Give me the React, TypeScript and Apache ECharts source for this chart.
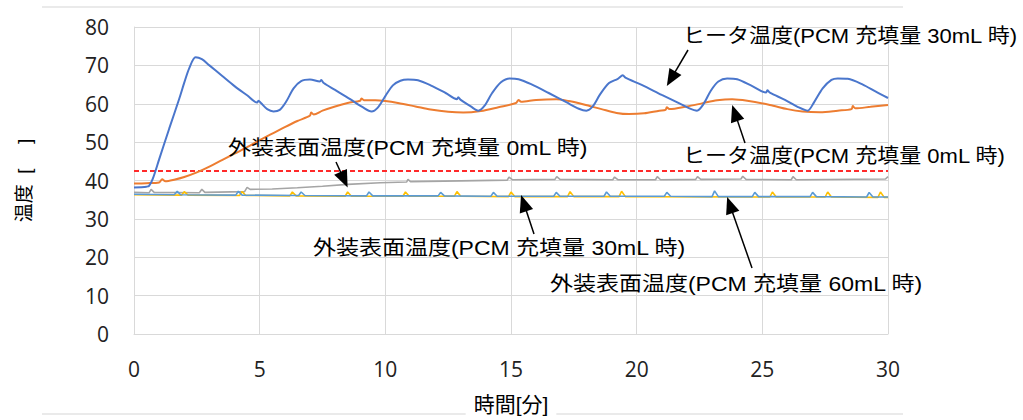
import React, { useEffect, useRef } from "react";
import * as echarts from "echarts";

// ---- data (time [min], temperature) ----
const heater30mL: [number, number][] = [
  [0, 38.2], [0.5, 38.4], [0.6, 38.6], [0.75, 40.5], [1.0, 45.5], [1.4, 53.5], [1.8, 61.3], [2.0, 65.5], [2.2, 69.3],
  [2.45, 72.1], [2.7, 71.6], [3.0, 70.0], [3.5, 67.3], [4.0, 64.6], [4.5, 62.2], [4.9, 60.3], [4.95, 60.8], [5.05, 60.2],
  [5.3, 58.6], [5.55, 58.0], [5.8, 58.4], [6.05, 60.5], [6.35, 64.0], [6.65, 65.9], [7.0, 66.3], [7.4, 65.8], [7.45, 66.2],
  [7.55, 65.4], [8.0, 63.6], [8.6, 61.2], [9.1, 59.1], [9.45, 58.0], [9.7, 59.0], [10.0, 62.0], [10.3, 64.8], [10.6, 66.0],
  [10.9, 66.3], [11.3, 66.1], [11.8, 64.8], [12.4, 62.8], [12.85, 61.2], [12.9, 61.7], [13.0, 61.0], [13.4, 59.3],
  [13.7, 58.2], [13.95, 59.5], [14.25, 62.8], [14.6, 65.6], [14.95, 66.6], [15.3, 66.4], [15.8, 65.1], [16.5, 62.8],
  [17.2, 60.4], [17.7, 58.7], [18.0, 58.2], [18.25, 59.3], [18.55, 62.5], [18.9, 65.4], [19.25, 66.5], [19.45, 67.4],
  [19.55, 66.8], [20.2, 64.9], [21.0, 62.3], [21.7, 60.1], [22.1, 58.8], [22.4, 58.2], [22.65, 59.8], [22.95, 63.4],
  [23.25, 65.8], [23.6, 66.6], [24.0, 66.4], [24.6, 64.6], [25.15, 62.9], [25.2, 63.5], [25.3, 62.9], [25.9, 61.0],
  [26.4, 59.2], [26.8, 58.2], [27.05, 60.3], [27.4, 64.0], [27.75, 66.2], [28.0, 66.6], [28.4, 66.5], [29.0, 65.0],
  [29.5, 63.2], [30, 61.5],
];

const heater0mL: [number, number][] = [
  [0, 39.2], [0.5, 39.3], [1.0, 39.5], [1.12, 40.3], [1.25, 39.8], [1.6, 40.2], [2.0, 40.9], [2.5, 42.1], [3.0, 43.6],
  [3.5, 45.3], [4.0, 47.0], [4.6, 49.0], [5.0, 50.5], [5.5, 52.2], [6.0, 53.9], [6.5, 55.5], [7.0, 56.9], [7.05, 57.7],
  [7.15, 57.2], [7.5, 58.2], [8.0, 59.3], [8.5, 60.2], [9.0, 60.8], [9.05, 61.4], [9.15, 60.9], [9.6, 60.9], [10.0, 60.7],
  [10.5, 60.2], [11.2, 59.3], [11.8, 58.5], [12.5, 57.9], [13.1, 57.7], [13.8, 58.1], [14.5, 59.1], [15.2, 60.2],
  [15.3, 61.0], [15.4, 60.5], [16.0, 61.0], [16.8, 61.2], [17.3, 60.7], [17.9, 59.8], [18.6, 58.6], [19.2, 57.6],
  [19.7, 57.3], [20.3, 57.5], [20.9, 58.2], [21.15, 58.4], [21.2, 59.1], [21.3, 58.6], [22.0, 59.3], [22.6, 60.1],
  [23.2, 60.9], [23.8, 61.2], [24.4, 60.8], [25.3, 59.7], [26.0, 58.6], [26.6, 58.0], [27.3, 57.8], [28.0, 58.2],
  [28.55, 58.6], [28.6, 59.4], [28.7, 58.8], [29.3, 59.2], [30, 59.7],
];

const surface0mL: [number, number][] = [
  [0, 36.9], [0.6, 36.8], [0.68, 37.7], [0.8, 36.9], [2.6, 36.8], [2.7, 37.7], [2.82, 36.9], [4.4, 37.1], [4.5, 38.2],
  [4.62, 37.7], [5.5, 37.8], [6.5, 38.1], [7.5, 38.5], [8.5, 39.0], [9.8, 39.4], [10.85, 39.6], [10.9, 40.3], [11.0, 39.7],
  [13.0, 39.9], [14.85, 40.1], [14.92, 40.9], [15.05, 40.2], [16.75, 40.3], [16.82, 41.0], [16.95, 40.3], [19.05, 40.2],
  [19.12, 40.9], [19.25, 40.2], [20.75, 40.2], [20.82, 41.0], [20.95, 40.2], [22.35, 40.3], [22.42, 41.0], [22.55, 40.3],
  [24.15, 40.4], [24.22, 41.1], [24.35, 40.3], [26.15, 40.2], [26.22, 41.0], [26.35, 40.2], [29.9, 40.4], [30, 41.0],
];

const surface30mL: [number, number][] = [
  [0, 36.3], [1.9, 36.2], [2.0, 37.1], [2.15, 36.2], [4.2, 36.1], [4.3, 37.1], [4.45, 36.1], [6.2, 36.0], [6.3, 37.0],
  [6.45, 36.0], [8.4, 35.9], [8.5, 37.0], [8.65, 35.9], [10.7, 35.9], [10.8, 37.0], [10.95, 35.9], [12.75, 35.9],
  [12.85, 37.1], [13.0, 35.9], [14.9, 35.8], [15.0, 37.0], [15.15, 35.8], [17.25, 35.8], [17.35, 37.1], [17.5, 35.8],
  [19.3, 35.8], [19.4, 37.2], [19.55, 35.8], [25.3, 35.7], [25.4, 37.0], [25.55, 35.7], [27.5, 35.7], [27.6, 37.0],
  [27.75, 35.7], [29.6, 35.6], [29.7, 37.0], [29.85, 35.6], [30, 35.6],
];

const surface60mL: [number, number][] = [
  [0, 36.4], [1.6, 36.3], [1.72, 37.2], [1.85, 36.3], [4.05, 36.2], [4.15, 37.2], [4.3, 36.2], [6.55, 36.1], [6.65, 37.0],
  [6.8, 36.1], [9.25, 36.0], [9.35, 37.0], [9.5, 36.0], [12.1, 36.0], [12.2, 36.9], [12.35, 36.0], [14.2, 35.9],
  [14.3, 36.9], [14.45, 35.9], [16.7, 35.9], [16.8, 36.9], [16.95, 35.9], [18.7, 35.9], [18.8, 37.0], [18.95, 35.9],
  [21.1, 35.9], [21.2, 36.9], [21.35, 35.9], [23.0, 35.8], [23.1, 37.3], [23.25, 35.8], [24.6, 35.8], [24.7, 36.9],
  [24.85, 35.8], [26.9, 35.8], [27.0, 36.9], [27.15, 35.8], [29.15, 35.7], [29.25, 36.9], [29.4, 35.7], [30, 35.7],
];

const limitLine: [number, number][] = [[0, 42.5], [30, 42.5]];

const labels = [
  "ヒータ温度(PCM 充填量 30mL 時)",
  "ヒータ温度(PCM 充填量 0mL 時)",
  "外装表面温度(PCM 充填量 0mL 時)",
  "外装表面温度(PCM 充填量 30mL 時)",
  "外装表面温度(PCM 充填量 60mL 時)",
];
// arrow tips in data coordinates
const arrowTips: [number, number][] = [[21.2, 64.6], [23.8, 59.7], [8.5, 38.2], [15.4, 36.2], [23.6, 35.7]];

const xAxisName = "時間[分]";
const yAxisName = "温度  [　 ]";

// ---- layout (pixels) for annotation texts and arrow tails ----
const labelLayout = [
  { x: 683, y: 36, sx: 1.1, tail: [688, 50] },
  { x: 683, y: 156, sx: 1.1, tail: [745, 143] },
  { x: 228, y: 148, sx: 1.15, tail: [336, 162] },
  { x: 313, y: 248, sx: 1.15, tail: [534, 234] },
  { x: 550, y: 284, sx: 1.15, tail: [752, 268] },
];

const FONT_MIX = "'Liberation Sans', 'Noto Sans CJK JP', sans-serif";
const FONT_TICK = "'Open Sans', sans-serif";

export default function App() {
  const ref = useRef<HTMLDivElement>(null);
  useEffect(() => {
    document.body.style.margin = "0";
    if (!ref.current) return;
    const chart = echarts.init(ref.current, undefined, { renderer: "svg" });
    const lineSeries = (name: string, data: [number, number][], color: string, width: number, smooth: number | boolean, extra: any = {}) => ({
      name,
      type: "line",
      data,
      symbol: "none",
      smooth,
      lineStyle: { color, width, ...extra },
      itemStyle: { color },
      z: 3,
    });
    chart.setOption({
      animation: false,
      backgroundColor: "#fff",
      grid: { left: 134, right: 135, top: 27, bottom: 77 },
      xAxis: {
        type: "value",
        min: 0,
        max: 30,
        interval: 5,
        name: xAxisName,
        nameLocation: "middle",
        nameGap: 60,
        nameTextStyle: { color: "#000", fontSize: 21, fontFamily: FONT_MIX, backgroundColor: "#fff", padding: [0, 8] },
        axisLine: { show: true, lineStyle: { color: "#d9d9d9", width: 1 } },
        axisTick: { show: false },
        axisLabel: { color: "#222", fontSize: 21, fontFamily: FONT_TICK, margin: 24 },
        splitLine: { show: true, lineStyle: { color: "#d9d9d9", width: 1 } },
      },
      yAxis: {
        type: "value",
        min: 0,
        max: 80,
        interval: 10,
        name: yAxisName,
        nameLocation: "middle",
        nameRotate: 90,
        nameGap: 100,
        nameTextStyle: { color: "#000", fontSize: 19, fontFamily: FONT_MIX },
        axisLine: { show: true, lineStyle: { color: "#d9d9d9", width: 1 } },
        axisTick: { show: false },
        axisLabel: { color: "#222", fontSize: 21, fontFamily: FONT_TICK, margin: 25 },
        splitLine: { show: true, lineStyle: { color: "#d9d9d9", width: 1 } },
      },
      series: [
        lineSeries("limit", limitLine, "#ff2a2a", 2, false, { type: [5, 3] }),
        lineSeries(labels[2], surface0mL, "#a5a5a5", 1.6, false),
        lineSeries(labels[3], surface30mL, "#ffc000", 1.6, false),
        lineSeries(labels[4], surface60mL, "#5b9bd5", 1.6, false),
        lineSeries(labels[1], heater0mL, "#ed7d31", 2, 0.3),
        lineSeries(labels[0], heater30mL, "#4a76cc", 2, 0.3),
      ],
    });

    const graphics: any[] = [
      { type: "line", shape: { x1: 42, y1: 7, x2: 903, y2: 7 }, style: { stroke: "#e3e3e3", lineWidth: 1.5 } },
      { type: "line", shape: { x1: 42, y1: 414, x2: 903, y2: 414 }, style: { stroke: "#e3e3e3", lineWidth: 1.5 }, z: -1 },
    ];
    labels.forEach((text, i) => {
      const lay = labelLayout[i];
      const tip = chart.convertToPixel({ xAxisIndex: 0, yAxisIndex: 0 }, arrowTips[i]) as number[];
      const [tx, ty] = lay.tail;
      const dx = tip[0] - tx;
      const dy = tip[1] - ty;
      const len = Math.hypot(dx, dy);
      const ux = dx / len;
      const uy = dy / len;
      const L = 17;
      const W = 14;
      const bx = tip[0] - ux * L;
      const by = tip[1] - uy * L;
      const px = -uy;
      const py = ux;
      graphics.push({
        type: "line",
        shape: { x1: tx, y1: ty, x2: bx + ux * 2, y2: by + uy * 2 },
        style: { stroke: "#000", lineWidth: 1.5 },
        z: 10,
      });
      graphics.push({
        type: "polygon",
        shape: {
          points: [
            [tip[0], tip[1]],
            [bx + (px * W) / 2, by + (py * W) / 2],
            [bx - (px * W) / 2, by - (py * W) / 2],
          ],
        },
        style: { fill: "#000" },
        z: 10,
      });
      graphics.push({
        type: "text",
        x: lay.x,
        y: lay.y,
        scaleX: lay.sx,
        z: 10,
        style: {
          text,
          x: 0,
          y: 0,
          fill: "#000",
          fontSize: 20,
          fontFamily: FONT_MIX,
          align: "left",
          verticalAlign: "middle",
        },
      });
    });
    chart.setOption({ graphic: graphics });
    return () => chart.dispose();
  }, []);
  return <div ref={ref} style={{ width: 1023, height: 420 }} />;
}
